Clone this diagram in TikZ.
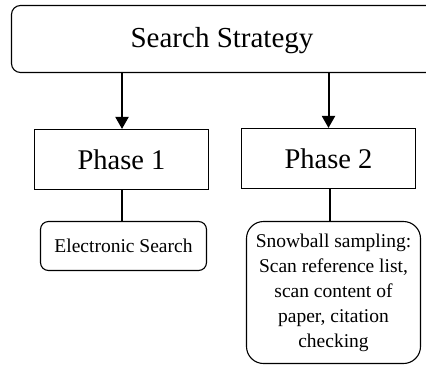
\documentclass[tikz,border=0pt]{standalone}
\usepackage{fontspec}
\setmainfont{Liberation Serif}
\usetikzlibrary{arrows.meta}
\begin{document}
\begin{tikzpicture}[x=1pt,y=-1pt,
  phasebox/.style={draw,line width=1.1pt,minimum width=174pt,minimum height=60pt,inner sep=0pt,font=\fontsize{28.5}{34}\selectfont},
  leafbox/.style={draw,line width=1.1pt,inner sep=0pt,align=center,font=\fontsize{19.5}{25}\selectfont},
  arr/.style={line width=2pt,-{Triangle[length=12pt,width=13pt]}},
  link/.style={line width=1.6pt}]
\useasboundingbox (0,0) rectangle (426,365);
% top-level box, running past the right edge
\node[draw,line width=1.1pt,rounded corners=9pt,minimum width=430pt,minimum height=67pt,inner sep=0pt] (top) at (226.5,39) {};
\node[font=\fontsize{29}{34}\selectfont] (toptext) at (222,40.5) {Search Strategy};
% phases
\node[phasebox] (p1) at (121.5,159.5) {Phase 1};
\node[phasebox] (p2) at (328.5,158.5) {Phase 2};
% leaves
\node[leafbox,rounded corners=8pt,minimum width=166pt,minimum height=49pt] (e) at (123.5,246) {Electronic Search};
\node[leafbox,rounded corners=17pt,minimum width=174pt,minimum height=142pt] (s) at (333.5,292.5)
  {Snowball sampling:\\Scan reference list,\\scan content of\\paper, citation\\checking};
% connectors
\coordinate (a1) at ([xshift=0.5pt]p1.north);
\coordinate (a2) at ([xshift=0pt]p2.north);
\draw[arr] (top.south -| a1) -- (a1);
\draw[arr] (top.south -| a2) -- (a2);
\coordinate (p1b) at ([xshift=0.5pt]p1.south);
\draw[link] (p1b) -- (p1b |- e.north);
\coordinate (p2b) at ([xshift=1.5pt]p2.south);
\draw[link] (p2b) -- (p2b |- s.north);
\end{tikzpicture}
\end{document}
